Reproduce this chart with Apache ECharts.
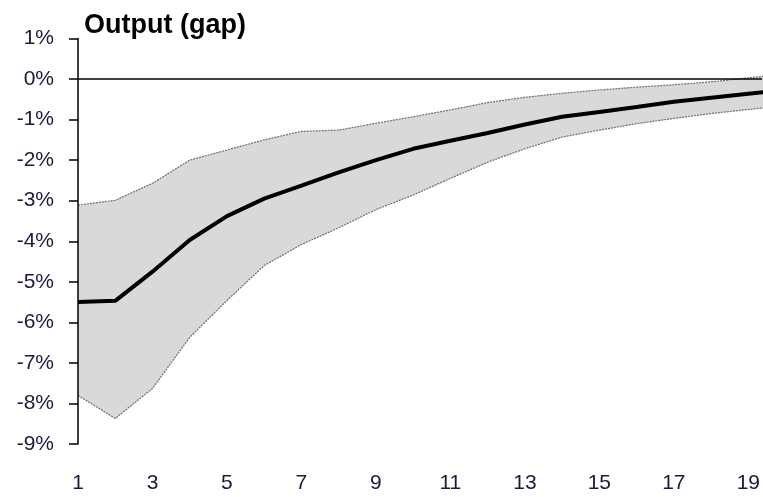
<!DOCTYPE html>
<html>
<head>
<meta charset="utf-8">
<script src="https://cdn.jsdelivr.net/npm/echarts@6/dist/echarts.min.js"></script>
<style>
html,body{margin:0;padding:0;background:#fff;}
#chart{width:763px;height:497px;}
</style>
</head>
<body>
<div id="chart"></div>
<script>
var periods = [1,2,3,4,5,6,7,8,9,10,11,12,13,14,15,16,17,18,19,20];
var meanGap = [-5.5, -5.47, -4.75, -3.97, -3.38, -2.95, -2.63, -2.3, -2.0, -1.72, -1.52, -1.33, -1.12, -0.93, -0.81, -0.69, -0.56, -0.46, -0.36, -0.27];
var upperBand = [-3.11, -2.99, -2.57, -2.0, -1.75, -1.5, -1.29, -1.26, -1.09, -0.93, -0.76, -0.58, -0.45, -0.35, -0.27, -0.2, -0.14, -0.07, 0.03, 0.12];
var lowerBand = [-7.8, -8.37, -7.63, -6.37, -5.46, -4.6, -4.08, -3.67, -3.22, -2.86, -2.45, -2.05, -1.72, -1.43, -1.26, -1.1, -0.97, -0.85, -0.75, -0.66];
var xTicks = {min: 1, max: 19.37, step: 2};
var yTicks = {min: -9, max: 1, step: 1};
var titleText = 'Output (gap)';

function pairs(arr) { return arr.map(function (v, i) { return [periods[i], v]; }); }
var bandData = periods.map(function (p, i) { return [p, upperBand[i], lowerBand[i]]; });
var FONT = "'Liberation Sans', Arial, sans-serif";

var chart = echarts.init(document.getElementById('chart'), null, {renderer: 'canvas'});
chart.setOption({
  animation: false,
  backgroundColor: '#ffffff',
  title: {
    text: titleText,
    left: 84,
    top: 12,
    padding: 0,
    textStyle: {fontFamily: FONT, fontSize: 27, fontWeight: 'bold', color: '#000'}
  },
  grid: {left: 78, right: 0, top: 38.5, bottom: 53, containLabel: false},
  xAxis: {
    type: 'value',
    min: xTicks.min,
    max: xTicks.max,
    interval: xTicks.step,
    axisLine: {show: false},
    axisTick: {show: false},
    splitLine: {show: false},
    axisLabel: {
      showMaxLabel: false,
      fontFamily: FONT, fontSize: 21, color: '#1a1a3a', margin: 29,
      formatter: function (v) { return (Math.abs(v - Math.round(v)) < 1e-6 && Math.round(v) % 2 === 1) ? String(Math.round(v)) : ''; }
    }
  },
  yAxis: {
    type: 'value',
    min: yTicks.min,
    max: yTicks.max,
    interval: yTicks.step,
    z: 5,
    axisLine: {show: true, lineStyle: {color: '#000', width: 1.5}},
    axisTick: {show: true, inside: false, length: 9, lineStyle: {color: '#000', width: 1.5}},
    splitLine: {show: false},
    axisLabel: {formatter: '{value}%', fontFamily: FONT, fontSize: 21, color: '#1a1a3a', margin: 24}
  },
  series: [
    {
      type: 'custom', name: 'band', data: bandData, silent: true, z: 1, clip: true,
      encode: {x: 0, y: [1, 2]},
      renderItem: function (params, api) {
        if (params.dataIndex !== 0) { return null; }
        var pts = [];
        for (var i = 0; i < bandData.length; i++) { pts.push(api.coord([bandData[i][0], bandData[i][1]])); }
        for (var j = bandData.length - 1; j >= 0; j--) { pts.push(api.coord([bandData[j][0], bandData[j][2]])); }
        return {type: 'polygon', shape: {points: pts}, style: {fill: '#d9d9d9', stroke: null}};
      }
    },
    {
      type: 'line', name: 'upper', data: pairs(upperBand), symbol: 'none',
      lineStyle: {color: '#6e6e6e', width: 1.2, type: [2, 1]}, z: 2
    },
    {
      type: 'line', name: 'lower', data: pairs(lowerBand), symbol: 'none',
      lineStyle: {color: '#6e6e6e', width: 1.2, type: [2, 1]}, z: 2
    },
    {
      type: 'line', name: 'mean', data: pairs(meanGap), symbol: 'none',
      lineStyle: {color: '#000', width: 4}, z: 4,
      markLine: {
        silent: true, symbol: 'none', label: {show: false},
        lineStyle: {color: '#000', width: 1.5, type: 'solid'},
        data: [{yAxis: 0}]
      }
    }
  ]
});
</script>
</body>
</html>
